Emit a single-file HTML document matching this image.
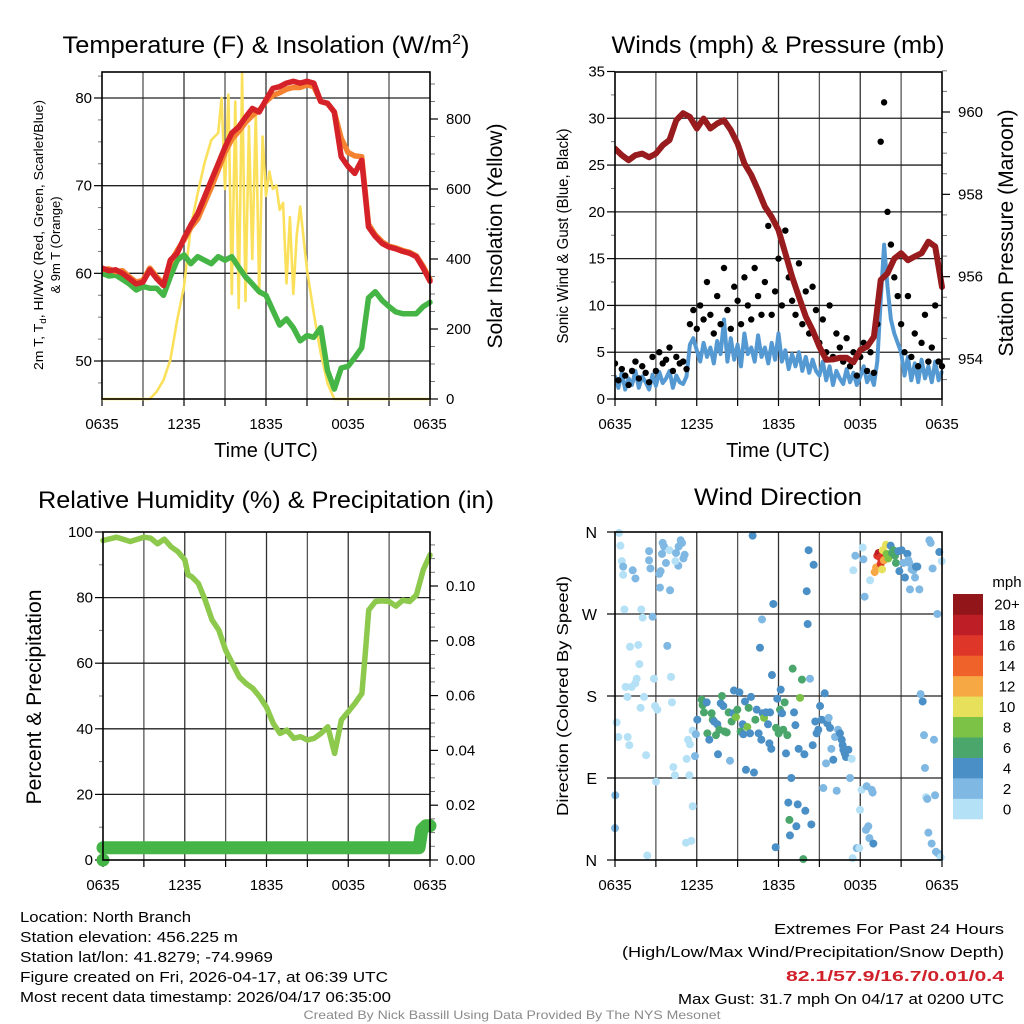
<!DOCTYPE html>
<html><head><meta charset="utf-8"><style>
html,body{margin:0;padding:0;background:#fff;}
svg{display:block;font-family:"Liberation Sans",sans-serif;}
</style></head><body>
<svg id="fig" width="1024" height="1024" viewBox="0 0 1024 1024" xmlns="http://www.w3.org/2000/svg">
<rect width="1024" height="1024" fill="#fff"/>
<g id="p1"></g>
<g id="p2"></g>
<g id="p3"></g>
<g id="p4"></g>

<text x="266" y="53" font-size="24" text-anchor="middle" textLength="407" lengthAdjust="spacingAndGlyphs">Temperature (F) &amp; Insolation (W/m<tspan font-size="15" dy="-9">2</tspan><tspan dy="9">)</tspan></text>
<text x="266" y="457" font-size="20" text-anchor="middle">Time (UTC)</text>
<text transform="translate(43,235) rotate(-90)" font-size="13" text-anchor="middle" textLength="270" lengthAdjust="spacingAndGlyphs">2m T, T<tspan font-size="9" dy="3">d</tspan><tspan dy="-3">, HI/WC (Red, Green, Scarlet/Blue)</tspan></text>
<text transform="translate(60,245) rotate(-90)" font-size="13" text-anchor="middle">&amp; 9m T (Orange)</text>
<text transform="translate(502,236) rotate(-90)" font-size="21" text-anchor="middle" textLength="225" lengthAdjust="spacingAndGlyphs">Solar Insolation (Yellow)</text>

<text x="778" y="53" font-size="24" text-anchor="middle" textLength="333" lengthAdjust="spacingAndGlyphs">Winds (mph) &amp; Pressure (mb)</text>
<text x="778" y="457" font-size="20" text-anchor="middle">Time (UTC)</text>
<text transform="translate(568,236) rotate(-90)" font-size="16" text-anchor="middle" textLength="215" lengthAdjust="spacingAndGlyphs">Sonic Wind &amp; Gust (Blue, Black)</text>
<text transform="translate(1013,233) rotate(-90)" font-size="21" text-anchor="middle" textLength="247" lengthAdjust="spacingAndGlyphs">Station Pressure (Maroon)</text>

<text x="266" y="508" font-size="24" text-anchor="middle" textLength="456" lengthAdjust="spacingAndGlyphs">Relative Humidity (%) &amp; Precipitation (in)</text>
<text transform="translate(41,697) rotate(-90)" font-size="21" text-anchor="middle" textLength="215" lengthAdjust="spacingAndGlyphs">Percent &amp; Precipitation</text>

<text x="778" y="505" font-size="24" text-anchor="middle" textLength="168" lengthAdjust="spacingAndGlyphs">Wind Direction</text>
<text transform="translate(568,696) rotate(-90)" font-size="16" text-anchor="middle" textLength="240" lengthAdjust="spacingAndGlyphs">Direction (Colored By Speed)</text>
<text x="1007" y="587" font-size="15" text-anchor="middle">mph</text>
<g id="cbar"></g>

<g font-size="15">
<text x="20" y="922" textLength="171" lengthAdjust="spacingAndGlyphs">Location: North Branch</text>
<text x="20" y="942" textLength="218" lengthAdjust="spacingAndGlyphs">Station elevation: 456.225 m</text>
<text x="20" y="962" textLength="253" lengthAdjust="spacingAndGlyphs">Station lat/lon: 41.8279; -74.9969</text>
<text x="20" y="982" textLength="368" lengthAdjust="spacingAndGlyphs">Figure created on Fri, 2026-04-17, at 06:39 UTC</text>
<text x="20" y="1002" textLength="371" lengthAdjust="spacingAndGlyphs">Most recent data timestamp: 2026/04/17 06:35:00</text>
</g>
<g font-size="15" text-anchor="end">
<text x="1004" y="934" textLength="230" lengthAdjust="spacingAndGlyphs">Extremes For Past 24 Hours</text>
<text x="1004" y="957" textLength="382" lengthAdjust="spacingAndGlyphs">(High/Low/Max Wind/Precipitation/Snow Depth)</text>
<text x="1004" y="981" font-weight="bold" fill="#d0202a" textLength="218" lengthAdjust="spacingAndGlyphs">82.1/57.9/16.7/0.01/0.4</text>
<text x="1004" y="1004" textLength="326" lengthAdjust="spacingAndGlyphs">Max Gust: 31.7 mph On 04/17 at 0200 UTC</text>
</g>
<text x="512" y="1019" font-size="12" fill="#8a8a8a" text-anchor="middle" textLength="417" lengthAdjust="spacingAndGlyphs">Created By Nick Bassill Using Data Provided By The NYS Mesonet</text>
</svg>
<script>
// ---------- data ----------
const xTickLabels = ["0635","1235","1835","0035","0635"];
const halfHourTimes = Array.from({length:49},(_,i)=>i*0.5);
const quarterTimes = Array.from({length:97},(_,i)=>i*0.25);
const tempRed = [60.6,60.3,60.4,60.0,59.4,58.8,59.0,60.4,59.4,58.6,61.5,62.3,64.0,65.5,66.8,68.7,70.6,72.5,74.4,76.0,76.7,77.8,78.8,78.4,79.8,81.1,81.3,81.7,81.9,81.7,81.9,81.7,79.6,79.4,78.4,73.3,72.2,71.4,72.9,65.3,64.2,63.4,63.0,62.8,62.5,62.3,61.9,60.6,59.1];
const tempOrange = [60.4,60.5,60.2,60.3,59.6,59.0,59.2,60.6,59.6,58.8,61.2,62.6,63.8,65.2,66.2,68.0,69.8,71.8,73.8,75.3,76.2,77.2,78.0,78.6,79.6,80.3,80.6,81.0,81.2,81.2,81.5,81.3,79.6,79.4,78.4,75.4,73.8,73.4,73.3,65.6,64.4,63.6,63.1,62.9,62.6,62.4,62.0,60.8,59.3];
const dewGreen = [60.0,59.7,59.8,59.3,58.8,58.1,58.5,58.3,58.3,57.5,59.6,61.5,62.1,61.1,61.9,61.5,61.1,61.9,61.5,61.9,60.7,59.6,58.8,57.9,57.5,55.8,54.1,54.8,53.8,52.3,52.9,52.7,53.8,48.9,46.8,49.2,49.4,50.4,51.5,57.2,57.9,56.9,56.2,55.6,55.4,55.4,55.4,56.2,56.7];
const insTimes = [0,3.5,4,4.5,5,5.5,6,6.5,7,7.5,8,8.5,8.75,9,9.25,9.5,9.75,10,10.25,10.5,10.75,11,11.25,11.5,11.75,12,12.25,12.5,12.75,13,13.25,13.5,13.75,14,14.25,14.5,15,15.5,16,16.5,17,24];
const insVals = [0,0,21,54,111,226,321,492,588,674,740,760,860,600,870,300,850,260,930,280,780,400,820,300,750,580,650,600,610,540,560,330,520,300,470,550,369,245,131,45,0,0];
const tempTicks = [50,60,70,80];
const insTicks = [0,200,400,600,800];

const pressure = [959.11,958.95,958.83,958.95,958.99,958.9,958.99,959.19,959.32,959.80,959.97,959.88,959.60,959.84,959.60,959.72,959.80,959.56,959.23,958.75,958.47,958.10,957.70,957.45,957.13,956.57,956.00,955.51,955.03,954.70,954.30,953.98,953.99,954.03,954.03,953.92,954.22,954.30,954.54,955.92,956.08,956.44,956.57,956.40,956.49,956.57,956.85,956.73,955.75];
const windSpeed = [2.5,1.2,2.8,1.0,2.2,1.5,3.0,1.2,2.4,1.8,1.0,2.6,1.4,2.9,1.7,2.2,3.0,1.2,2.5,1.8, 1.6,2.4,5.8,6.5, 5.2,4.0,6.0,4.5,5.5,3.8,6.2,4.8,8.5,4.0,6.5,4.2,5.8,3.5,7.0,4.8,5.5,4.0,6.8,4.5, 5.5,3.8,6.0,4.2,7.0,4.0,5.2,3.2,4.8,3.5,5.0,3.0,4.5,2.8,4.2,3.0, 2.5,4.0,2.0,3.5,1.5,3.0,2.2,1.6,3.2,1.8,2.8,1.5,2.4,3.5,1.8,2.6,1.5,4.0, 10.5,16.5,12.0,8.5,7.0,6.0, 5.0,2.5,4.5,2.0,3.8,1.8,4.2,2.2,3.5,1.8,4.0,2.0,3.0];
const windGust = [3.8,2.0,3.2,2.5,1.5,3.0,4.0,2.2,3.5,2.8,1.8,4.5,3.0,5.0,3.8,4.2,5.5,3.0,4.5,3.8, 4.0,3.2,8.0,9.5, 7.5,10.0,8.5,12.5,9.0,7.0,11.0,8.0,14.0,9.5,7.5,12.0,10.5,8.0,13.0,10.0,8.5,14.0,11.0,9.0, 12.5,18.5,9.0,11.5,15.0,10.0,18.0,13.0,10.5,9.0,14.5,8.0,11.5,7.0,12.0,9.5, 6.0,8.5,5.0,10.0,4.5,7.0,5.5,4.0,6.5,3.5,5.0,2.5,4.5,6.0,3.0,5.0,2.8,8.0, 27.5,31.7,20.0,16.5,13.0,11.0, 8.0,5.0,11.0,4.5,7.0,3.5,6.0,9.0,4.0,5.5,10.0,4.0,3.5];
const windTicks = [0,5,10,15,20,25,30,35];
const pressTicks = [954,956,958,960];

const rhTimes = [0,1,2,3,3.5,4,4.5,5,5.5,6,6.25,6.5,7,7.5,8,8.5,9,9.5,10,10.5,11,11.5,12,12.5,13,13.5,14,14.5,15,15.5,16,16.5,17,17.5,18,18.5,19,19.25,19.5,20,20.5,21,21.5,22,22.5,23,23.5,24];
const rhVals = [97.4,98.4,97.1,98.4,98.1,96.4,97.8,95.5,94.0,91.5,86.9,86.4,84.3,79.2,73.2,70.1,64.0,59.9,55.8,53.8,52.3,49.8,46.6,41.6,38.6,39.6,37.1,37.6,36.6,37.1,38.6,40.6,32.5,42.7,45.2,47.8,50.8,63,76.2,78.8,79.0,78.8,77.4,79.2,78.8,80.8,88.4,93.0];
const precipTimes = [0,0,23.2,23.4,23.7,24];
const precipVals = [0,0.0045,0.0045,0.011,0.0125,0.0125];
const rhTicks = [0,20,40,60,80,100];
const precipTicks = ["0.00","0.02","0.04","0.06","0.08","0.10"];

const dirTicks = ["N","E","S","W","N"];
const speedBins = ["0","2","4","6","8","10","12","14","16","18","20+"];
const dirPoints = [
[0.3,359,0],[0.4,345,0],[0.5,328,0],[0.6,322,2],[0.6,313,0],[1.3,318,2],[1.5,309,2],[2.5,339,2],[2.5,329,2],[2.6,320,2],[3.25,314,2],[3.35,317,2],[3.5,348,2],[3.6,344,2],[3.45,336,2],[3.74,326,2],[3.99,340,0],[3.3,299,2],[4.04,296,2],[4.48,337,2],[4.67,344,2],[4.82,351,2],[4.92,348,2],[5.11,335,2],[5.02,331,2],[4.65,323,2],[4.43,328,0],
[0.69,275,0],[1.93,275,0],[2.03,266,0],[2.76,267,2],[1.1,234,0],[1.71,236,0],[1.79,215,0],[3.84,235,2],[1.59,199,0],[1.49,194,0],[0.78,190,0],[1.22,190,0],[2.86,199,0],[4.11,201,0],[0.91,179,0],[2.13,179,0],[4.18,173,0],[1.88,167,0],[2.94,169,0],[3.11,165,0],[0.12,151,0],[0.24,135,0],[0.93,135,0],[1.05,126,0],[2.28,115,0],[5.26,111,0],[4.28,102,0],[4.4,93,0],[5.46,93,0],[5.36,132,0],[5.5,127,0],[5.7,142,0],[5.87,114,2],[5.94,138,2],[3.01,86,0],[0.02,71,2],[0,35,2],[5.7,59,0],[5.21,19,0],[5.6,21,0],[2.37,5,0],
[6.04,154,4],[6.36,176,6],[6.43,170,6],[6.53,162,6],[6.73,173,4],[6.78,139,6],[6.92,132,4],[7.09,161,6],[7.17,154,6],[7.27,152,4],[7.41,137,6],[7.51,149,4],[7.56,116,4],[7.66,143,6],[7.76,172,4],[7.85,180,6],[7.95,169,4],[8.05,141,6],[8.2,140,6],[8.34,162,6],[8.44,109,2],[8.56,152,6],[8.69,161,4],[8.73,186,4],[8.88,157,8],[8.98,165,6],[9.13,184,4],[9.22,141,6],[9.37,149,4],[9.42,138,4],[9.54,174,4],[9.61,99,4],[9.71,146,8],[9.81,167,6],[9.91,139,4],[9.98,179,4],[10.1,356,4],[10.2,96,4],[10.3,154,6],[10.4,165,4],[10.54,139,4],[10.64,233,4],[10.74,132,4],[10.79,264,2],[10.84,161,4],[10.94,156,8],[11.08,162,4],[11.23,149,4],[11.33,128,4],[11.38,162,4],[11.47,122,4],[11.52,203,4],[11.62,281,4],[11.82,145,6],[11.91,177,4],[12.01,139,6],[12.11,165,6],[12.16,187,4],[12.26,161,4],[12.35,143,6],[12.45,173,6],[12.55,117,4],[12.65,137,6],[12.72,63,4],[12.8,44,6],[12.84,27,4],[12.94,90,4],[13.04,210,6],[13.14,162,4],[13.24,148,4],[13.31,37,4],[13.41,61,4],[13.48,122,4],[13.58,178,8],[13.72,198,6],[13.82,1,6],[13.9,116,4],[13.97,54,4],[14.07,295,4],[14.14,259,4],[14.21,340,4],[14.31,199,2],[14.41,39,4],[14.51,126,4],[14.58,324,4],[14.7,152,4],[14.8,139,4],[14.92,143,4],[15.05,169,4],[15.17,154,4],[15.29,79,2],[15.39,183,4],[15.49,106,2],[15.58,150,4],[15.68,156,2],[15.78,145,4],[15.88,122,2],[16.02,110,4],[16.15,135,2],[16.27,76,2],[16.37,143,2],[16.51,139,4],[16.64,132,4],[16.71,126,4],[16.76,121,4],[16.86,117,4],[16.95,113,4],[17.13,121,4],[17.25,90,2],[17.37,111,0],[11.79,14,4],
[17.49,318,0],[17.64,334,2],[17.98,55,0],[18.1,77,0],[18.18,343,0],[18.23,330,2],[18.32,289,2],[18.42,33,2],[18.47,81,2],[18.59,37,2],[18.67,24,2],[18.72,307,0],[18.84,77,2],[18.91,74,2],[18.96,18,4],[17.74,13,2],[17.93,13,0],[17.44,2,0],
[19.06,316,12],[19.16,321,12],[19.25,334,16],[19.35,337,18],[19.45,332,16],[19.5,325,16],[19.6,319,10],[19.65,340,10],[19.74,329,12],[19.89,346,10],[19.94,336,8],[20.06,331,8],[20.13,335,8],[20.23,345,4],[20.33,337,6],[20.43,340,6],[20.55,334,6],[20.62,326,6],[20.8,339,4],[20.87,317,4],[21.04,340,4],[21.16,326,2],[21.28,310,4],[21.46,336,4],[21.53,329,2],[21.6,326,2],[21.65,297,2],[21.77,319,2],[21.9,318,2],[22.02,310,2],[22.09,322,4],[22.19,322,4],[22.34,297,2],
[23.07,351,2],[23.17,348,2],[23.31,320,2],[23.8,338,4],[23.98,328,0],[23.66,270,2],[22.43,182,2],[22.58,174,4],[22.68,137,2],[23.41,132,2],[22.75,101,2],[22.83,69,0],[22.92,67,2],[23.49,71,2],[23.0,30,2],[23.24,18,2],[23.56,9,2],[23.73,7,2],[23.9,3,0]
];
const binColors = ["#b5e1f7","#7fb8e2","#4a8fc6","#4aa66b","#7bc246","#e6e05a","#f6a845","#ef622a","#de3628","#be1e26","#921619"];

// ---------- helpers ----------
const NS = "http://www.w3.org/2000/svg";
function mk(parent, tag, attrs){
  const el = document.createElementNS(NS, tag);
  for (const k in attrs) el.setAttribute(k, attrs[k]);
  parent.appendChild(el);
  return el;
}
function lin(d0,d1,r0,r1){ return v => r0 + (v-d0)/(d1-d0)*(r1-r0); }
function linePath(xs, ys, fx, fy){
  return xs.map((t,i)=>(i?"L":"M")+fx(t).toFixed(1)+","+fy(ys[i]).toFixed(1)).join("");
}
function frame(g, x0,x1,y0,y1, hGrid){
  // vertical grid every 3 hours
  const fx = lin(0,24,x0,x1);
  for (let h=3; h<24; h+=3){
    const l = mk(g,"line",{x1:fx(h),x2:fx(h),y1:y0,y2:y1,stroke:(h%6===0)?"#333":"#555","stroke-width":1.3});
    
    
  }
  hGrid.forEach(y=>{
    const l = mk(g,"line",{x1:x0,x2:x1,y1:y,y2:y,stroke:"#222","stroke-width":1.3});
    
    
  });
  for (let h=0; h<=24; h+=3){
    const t = mk(g,"line",{x1:fx(h),x2:fx(h),y1:y1,y2:y1+7,stroke:"#000","stroke-width":1.2});
    
    
  }
  xTickLabels.forEach((s,i)=>{
    const tx = mk(g,"text",{x:fx(i*6),y:y1+30,"font-size":15,"text-anchor":"middle"});
    tx.textContent = s;
    
    
  });
  return fx;
}
function border(g,x0,x1,y0,y1){
  const r = mk(g,"rect",{x:x0,y:y0,width:x1-x0,height:y1-y0,fill:"none",stroke:"#000","stroke-width":1.6});
  
  
}
function leftAxis(g, x0, vals, fy, labels, minorVals){
  vals.forEach((v,i)=>{
    const t = mk(g,"line",{x1:x0-8,x2:x0,y1:fy(v),y2:fy(v),stroke:"#000","stroke-width":1.2});
    
    
    const tx = mk(g,"text",{x:x0-10,y:fy(v)+5,"font-size":15,"text-anchor":"end"});
    tx.textContent = labels ? labels[i] : v;
    
    
  });
  (minorVals||[]).forEach(v=>{
    const t = mk(g,"line",{x1:x0-4,x2:x0,y1:fy(v),y2:fy(v),stroke:"#777","stroke-width":1});
    
    
  });
}
function rightAxis(g, x1, vals, fy, labels, minorVals){
  vals.forEach((v,i)=>{
    const t = mk(g,"line",{x1:x1,x2:x1+8,y1:fy(v),y2:fy(v),stroke:"#000","stroke-width":1.2});
    
    
    const tx = mk(g,"text",{x:x1+16,y:fy(v)+5,"font-size":15,"text-anchor":"start"});
    tx.textContent = labels ? labels[i] : v;
    
    
  });
  (minorVals||[]).forEach(v=>{
    const t = mk(g,"line",{x1:x1,x2:x1+5,y1:fy(v),y2:fy(v),stroke:"#777","stroke-width":1});
    
    
  });
}
function range(a,b,s){ const r=[]; for(let v=a; v<=b+1e-9; v+=s) r.push(+v.toFixed(4)); return r; }

// ---------- panel 1 ----------
(function(){
  const g = document.getElementById('p1');
  const x0=102,x1=430,y0=72,y1=399;
  const fyT = lin(50,80,361,98);
  const fyI = lin(0,800,399,119);
  const fx = frame(g,x0,x1,y0,y1,tempTicks.map(fyT));
  leftAxis(g,x0,tempTicks,fyT,null,range(47.5,82.5,2.5).filter(v=>v%10!==0));
  rightAxis(g,x1,insTicks,fyI,null,range(0,900,50).filter(v=>v%200!==0));
  const clip = mk(g,"clipPath",{id:"c1"}); mk(clip,"rect",{x:x0,y:y0-2,width:x1-x0+4,height:y1-y0+4});
  const s = mk(g,"g",{"clip-path":"url(#c1)"});
  const ins = mk(s,"path",{d:linePath(insTimes,insVals,fx,fyI),fill:"none",stroke:"#fbe15b","stroke-width":2.6,"stroke-linejoin":"round"});
  
  
  const dg = mk(s,"path",{d:linePath(halfHourTimes,dewGreen,fx,fyT),fill:"none",stroke:"#45b545","stroke-width":5.5,"stroke-linejoin":"round","stroke-linecap":"round"});
  
  
  const org = mk(s,"path",{d:linePath(halfHourTimes,tempOrange,fx,fyT),fill:"none",stroke:"#f58230","stroke-width":5.5,"stroke-linejoin":"round","stroke-linecap":"round"});
  
  
  const red = mk(s,"path",{d:linePath(halfHourTimes,tempRed,fx,fyT),fill:"none",stroke:"#d52128","stroke-width":5.5,"stroke-linejoin":"round","stroke-linecap":"round"});
  
  
  border(g,x0,x1,y0,y1);
})();

// ---------- panel 2 ----------
(function(){
  const g = document.getElementById('p2');
  const x0=615,x1=942,y0=72,y1=399;
  const fyW = lin(0,35,399,71.5);
  const fyP = lin(954,960,359,112);
  const fx = frame(g,x0,x1,y0,y1,windTicks.slice(1,-1).map(fyW));
  leftAxis(g,x0,windTicks,fyW,null,range(2.5,32.5,5));
  rightAxis(g,x1,pressTicks,fyP,null,range(953.5,961,0.5).filter(v=>v%2!==0));
  const clip = mk(g,"clipPath",{id:"c2"}); mk(clip,"rect",{x:x0,y:y0-2,width:x1-x0+4,height:y1-y0+4});
  const s = mk(g,"g",{"clip-path":"url(#c2)"});
  const w = mk(s,"path",{d:linePath(quarterTimes,windSpeed,fx,fyW),fill:"none",stroke:"#5599d3","stroke-width":4,"stroke-linejoin":"round"});
  
  
  windGust.forEach((v,i)=>{
    const c = mk(s,"circle",{cx:fx(quarterTimes[i]),cy:fyW(v),r:3.2,fill:"#000"});
    
    
  });
  const p = mk(s,"path",{d:linePath(halfHourTimes,pressure,fx,fyP),fill:"none",stroke:"#981b1e","stroke-width":6,"stroke-linejoin":"round","stroke-linecap":"round"});
  
  
  border(g,x0,x1,y0,y1);
})();

// ---------- panel 3 ----------
(function(){
  const g = document.getElementById('p3');
  const x0=103,x1=430,y0=532,y1=860;
  const fyR = lin(0,100,860,532);
  const fyQ = lin(0,0.1,860,586);
  const fx = frame(g,x0,x1,y0,y1,rhTicks.slice(1,-1).map(fyR));
  leftAxis(g,x0,rhTicks,fyR,null,range(10,90,20));
  rightAxis(g,x1,precipTicks.map(Number),fyQ,precipTicks,range(0.005,0.115,0.005).filter(v=>Math.round(v*1000)%20!==0));
  const clip = mk(g,"clipPath",{id:"c3"}); mk(clip,"rect",{x:x0-8,y:y0-2,width:x1-x0+16,height:y1-y0+10});
  const s = mk(g,"g",{"clip-path":"url(#c3)"});
  const rh = mk(s,"path",{d:linePath(rhTimes,rhVals,fx,fyR),fill:"none",stroke:"#8dc94c","stroke-width":5.5,"stroke-linejoin":"round","stroke-linecap":"round"});
  
  
  const first = mk(s,"circle",{cx:fx(precipTimes[0]),cy:fyQ(precipVals[0]),r:6.5,fill:"#46b547"});
  
  
  const pr = mk(s,"path",{d:linePath(precipTimes.slice(1),precipVals.slice(1),fx,fyQ),fill:"none",stroke:"#46b547","stroke-width":13,"stroke-linejoin":"round","stroke-linecap":"round"});
  
  
  border(g,x0,x1,y0,y1);
})();

// ---------- panel 4 ----------
(function(){
  const g = document.getElementById('p4');
  const x0=615,x1=942,y0=532,y1=860;
  const fyD = lin(0,360,860,532);
  const dirVals = [0,90,180,270,360];
  const fx = frame(g,x0,x1,y0,y1,dirVals.slice(1,-1).map(fyD));
  dirVals.forEach((v,i)=>{
    const t = mk(g,"line",{x1:x0-8,x2:x0,y1:fyD(v),y2:fyD(v),stroke:"#000","stroke-width":1.2});
    
    
    const tx = mk(g,"text",{x:x0-18,y:fyD(v)+6,"font-size":16,"text-anchor":"end"});
    tx.textContent = dirTicks[i];
    
    
  });
  dirPoints.forEach(p=>{
    const bin = Math.min(10, Math.floor(p[2]/2));
    const c = mk(g,"circle",{cx:fx(p[0]),cy:fyD(p[1]),r:4,fill:binColors[bin]});
    
    
  });
  border(g,x0,x1,y0,y1);
  // colorbar
  const cb = document.getElementById('cbar');
  const bh = 225/11;
  speedBins.forEach((lab,i)=>{
    const y = 819 - (i+1)*bh;
    const r = mk(cb,"rect",{x:953,y:y,width:30,height:bh+0.3,fill:binColors[i]});
    
    
    const tx = mk(cb,"text",{x:1007,y:y+bh/2+5.5,"font-size":15,"text-anchor":"middle"});
    tx.textContent = lab;
    
    
  });
})();
</script>
</body></html>
